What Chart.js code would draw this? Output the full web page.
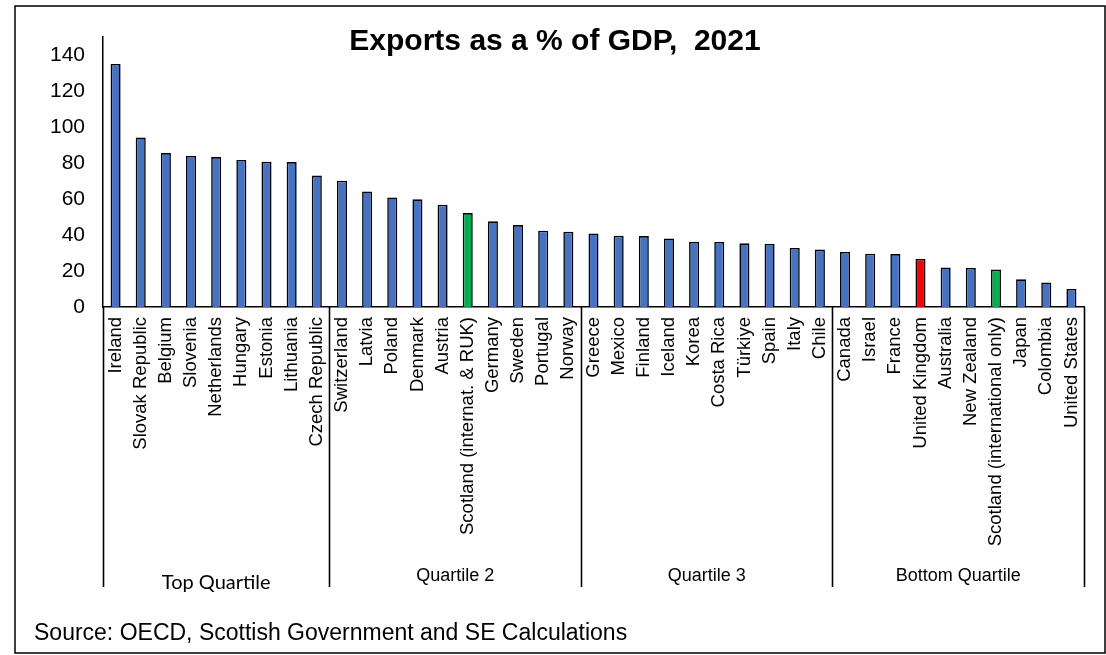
<!DOCTYPE html>
<html>
<head>
<meta charset="utf-8">
<title>Exports as a % of GDP, 2021</title>
<script src="https://cdn.jsdelivr.net/npm/chart.js@4"></script>
<style>
  html, body { margin: 0; padding: 0; background: #fff; }
  canvas { display: block; }
</style>
</head>
<body>
<canvas id="exports-chart" width="1106" height="655"></canvas>
<script>
// ---- data ---------------------------------------------------------------
const countries = [
  'Ireland', 'Slovak Republic', 'Belgium', 'Slovenia', 'Netherlands', 'Hungary', 'Estonia', 'Lithuania', 'Czech Republic',
  'Switzerland', 'Latvia', 'Poland', 'Denmark', 'Austria', 'Scotland (internat. & RUK)', 'Germany', 'Sweden', 'Portugal', 'Norway',
  'Greece', 'Mexico', 'Finland', 'Iceland', 'Korea', 'Costa Rica', 'Türkiye', 'Spain', 'Italy', 'Chile',
  'Canada', 'Israel', 'France', 'United Kingdom', 'Australia', 'New Zealand', 'Scotland (international only)', 'Japan', 'Colombia', 'United States'
];
const exportsPct = [
  135.0, 94.2, 85.5, 83.9, 83.3, 81.7, 80.7, 80.5, 73.1,
  70.2, 64.2, 60.9, 59.8, 56.8, 52.2, 47.6, 45.5, 42.4, 41.8,
  40.9, 39.6, 39.4, 38.1, 36.2, 36.1, 35.4, 35.0, 32.8, 31.9,
  30.6, 29.6, 29.4, 26.7, 22.0, 21.7, 20.8, 15.4, 13.6, 10.0
];
const quartiles = ['Top Quartile', 'Quartile 2', 'Quartile 3', 'Bottom Quartile'];
const quartileSizes = [9, 10, 10, 10];
const yTicks = [0, 20, 40, 60, 80, 100, 120, 140];
const yMax = 150;

// ---- colours -------------------------------------------------------------
const BLUE = '#4472C4';
const GREEN = '#00B050';
const RED = '#FF0000';
const FONT = '"Liberation Sans", Arial, sans-serif';

function barColour(name){
  if (name.startsWith('Scotland')) return GREEN;
  if (name === 'United Kingdom') return RED;
  return BLUE;
}

// ---- extras drawn on top: frame, title, quartile brackets, source -------
const decorations = {
  id: 'decorations',
  afterDraw(chart){
    const ctx = chart.ctx;
    const x = chart.scales.x;
    const area = chart.chartArea;
    const bracketBottom = 587;

    ctx.save();
    ctx.strokeStyle = '#000';
    ctx.fillStyle = '#000';

    // outer frame
    ctx.lineWidth = 1.5;
    ctx.strokeRect(15, 6, 1090, 647);

    // title
    ctx.font = 'bold 30px ' + FONT;
    ctx.textAlign = 'center';
    ctx.textBaseline = 'middle';
    ctx.fillText('Exports as a % of GDP,  2021', 555, 42);

    // group dividers and labels under the category axis
    const half = (x.getPixelForValue(1) - x.getPixelForValue(0)) / 2;
    let start = 0;
    const edges = [area.left];
    quartiles.forEach((q, i) => {
      const end = start + quartileSizes[i] - 1;
      const right = i === quartiles.length - 1 ? area.right : x.getPixelForValue(end) + half;
      edges.push(right);
      start = end + 1;
    });
    ctx.lineWidth = 1.6;
    edges.forEach(px => {
      ctx.beginPath();
      ctx.moveTo(Math.round(px) + 0.5, area.bottom);
      ctx.lineTo(Math.round(px) + 0.5, bracketBottom);
      ctx.stroke();
    });
    quartiles.forEach((q, i) => {
      const mid = (edges[i] + edges[i + 1]) / 2;
      if (i === 0) {
        ctx.font = '20px Lato, "Open Sans", sans-serif';
        ctx.fillText(q, mid, 583);
      } else {
        ctx.font = '18px ' + FONT;
        ctx.fillText(q, mid, 576);
      }
    });

    // source note
    ctx.font = '23px ' + FONT;
    ctx.textAlign = 'left';
    ctx.fillText('Source: OECD, Scottish Government and SE Calculations', 34, 634);
    ctx.restore();
  }
};

new Chart(document.getElementById('exports-chart'), {
  type: 'bar',
  data: {
    labels: countries,
    datasets: [{
      data: exportsPct,
      backgroundColor: countries.map(barColour),
      borderColor: '#000',
      borderWidth: 1.6,
      barPercentage: 0.4,
      categoryPercentage: 1
    }]
  },
  options: {
    responsive: false,
    animation: false,
    devicePixelRatio: 1,
    layout: { padding: { top: 37, right: 22, left: 0, bottom: 0 } },
    plugins: {
      legend: { display: false },
      title: { display: false },
      tooltip: { enabled: false }
    },
    scales: {
      x: {
        grid: { display: false, drawTicks: false },
        border: { display: true, color: '#000', width: 1.5 },
        ticks: {
          autoSkip: false,
          minRotation: 90,
          maxRotation: 90,
          padding: 10,
          color: '#000',
          font: { family: FONT, size: 18.5 }
        },
        afterFit: scale => { scale.height = 348; }
      },
      y: {
        min: 0,
        max: yMax,
        grid: { display: false, drawTicks: false },
        border: { display: true, color: '#000', width: 1.5 },
        ticks: {
          padding: 18,
          color: '#000',
          font: { family: FONT, size: 21 }
        },
        afterBuildTicks: scale => {
          scale.ticks = yTicks.map(v => ({ value: v }));
        },
        afterFit: scale => { scale.width = 103; }
      }
    }
  },
  plugins: [decorations]
});
</script>
</body>
</html>
